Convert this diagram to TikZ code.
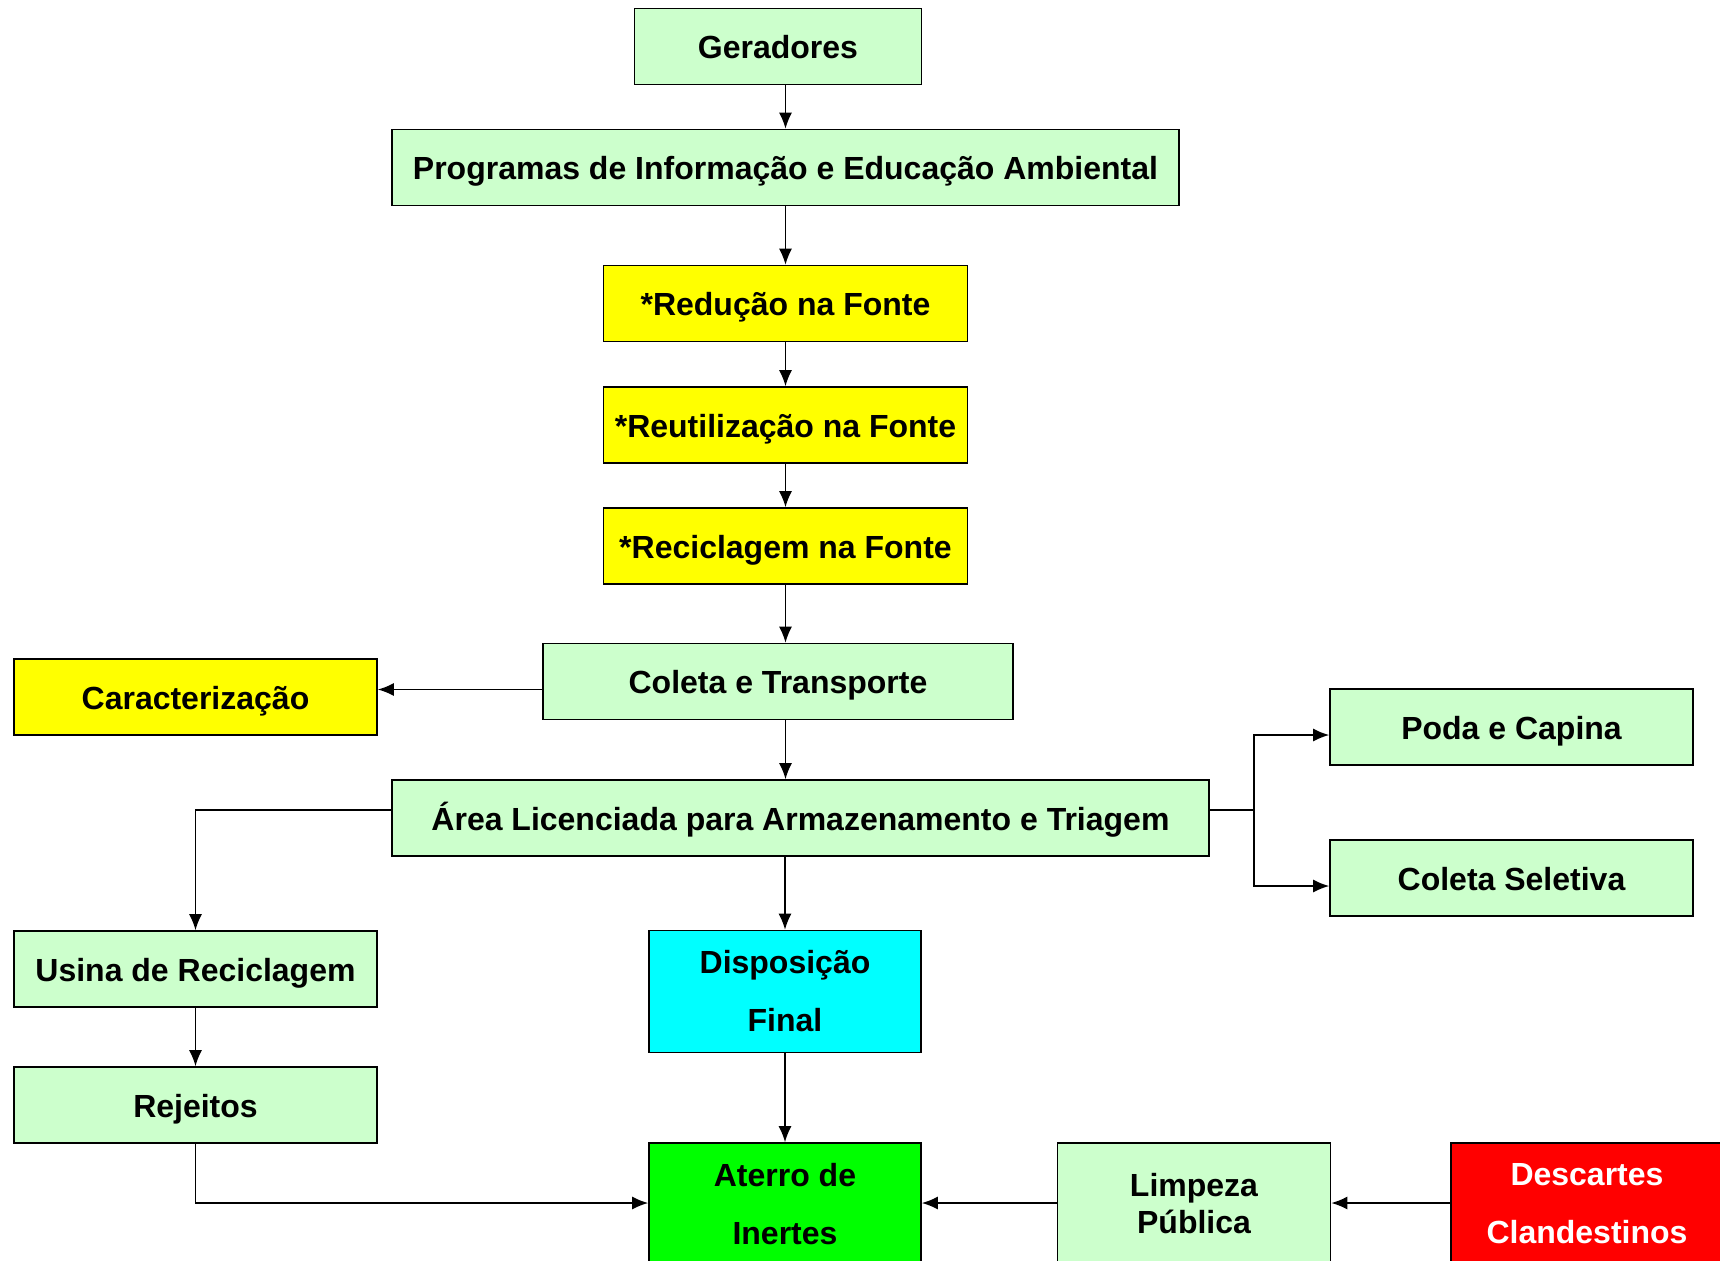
\documentclass[tikz,border=0pt]{standalone}
\usepackage{fontspec}
\setmainfont{Liberation Sans}
\usetikzlibrary{arrows.meta}
\definecolor{verdeclaro}{HTML}{CCFFCC}
\definecolor{amarelo}{HTML}{FFFF00}
\definecolor{ciano}{HTML}{00FFFF}
\definecolor{verde}{HTML}{00FF00}
\definecolor{vermelho}{HTML}{FF0000}
\tikzset{
  bloco/.style={draw=black, line width=.8pt, fill=verdeclaro, align=center,
    minimum height=38pt, inner sep=2pt,
    font=\bfseries\fontsize{16}{18.5}\selectfont},
  linha/.style={text height=14pt, text depth=2pt},
  alto/.style={minimum height=61pt, font=\bfseries\fontsize{16}{29}\selectfont},
  seta/.style={-{Latex[length=8pt,width=6.5pt]}, line width=.8pt},
}
\begin{document}
\begin{tikzpicture}[x=.5pt,y=-.5pt]
  \useasboundingbox (0,0) rectangle (1720,1260);
  % coluna central
  \node[bloco, linha, minimum width=143.5pt] (ger) at (778,46.5) {Geradores};
  \node[bloco, linha, minimum width=393.5pt] (prog) at (785.5,167.5) {Programas de Informação e Educação Ambiental};
  \node[bloco, linha, fill=amarelo, minimum width=182pt] (red) at (785.5,303.5) {*Redução na Fonte};
  \node[bloco, linha, fill=amarelo, minimum width=182pt] (reu) at (785.5,425) {*Reutilização na Fonte};
  \node[bloco, linha, fill=amarelo, minimum width=182pt] (rec) at (785.5,546) {*Reciclagem na Fonte};
  \node[bloco, linha, minimum width=235pt] (col) at (778,681.5) {Coleta e Transporte};
  \node[bloco, linha, minimum width=408.5pt] (area) at (800.5,818) {Área Licenciada para Armazenamento e Triagem};
  \node[bloco, alto, fill=ciano, minimum width=136pt] (disp) at (785,991.5) {Disposição\\Final};
  \node[bloco, alto, fill=verde, minimum width=136pt] (ater) at (785,1204) {Aterro de\\Inertes};
  % lado esquerdo
  \node[bloco, linha, fill=amarelo, minimum width=181.5pt] (car) at (195.5,697) {Caracterização};
  \node[bloco, linha, minimum width=181.5pt] (usina) at (195.5,969) {Usina de Reciclagem};
  \node[bloco, linha, minimum width=181.5pt] (rej) at (195.5,1105) {Rejeitos};
  % lado direito
  \node[bloco, linha, minimum width=181.5pt] (poda) at (1511.5,727) {Poda e Capina};
  \node[bloco, linha, minimum width=181.5pt] (sel) at (1511.5,878) {Coleta Seletiva};
  \node[bloco, minimum width=136.5pt, minimum height=61pt] (limp) at (1194,1204) {Limpeza\\Pública};
  \node[bloco, alto, fill=vermelho, text=white, minimum width=136pt] (desc) at (1587,1204) {Descartes\\Clandestinos};
  \coordinate (bif) at (1254,810);
  % ligacoes
  \draw[seta] (ger.south -| prog.north) -- (prog.north);
  \draw[seta] (prog) -- (red);
  \draw[seta] (red) -- (reu);
  \draw[seta] (reu) -- (rec);
  \draw[seta] (rec.south) -- (rec.south |- col.north);
  \draw[seta] ([yshift=-4pt]col.west) -- ([yshift=-4pt]col.west -| car.east);
  \draw[seta] (col.south -| rec.south) -- (rec.south |- area.north);
  \draw[seta] ([yshift=4pt]area.west) -| (usina.north);
  \draw[line width=.8pt] ([yshift=4pt]area.east) -- (bif);
  \draw[seta] (bif) |- ([yshift=-4pt]poda.west);
  \draw[seta] (bif) |- ([yshift=-4pt]sel.west);
  \draw[seta] (area.south -| disp.north) -- (disp.north);
  \draw[seta] (disp) -- (ater);
  \draw[seta] (usina) -- (rej);
  \draw[seta] (rej.south) |- ([yshift=.5pt]ater.west);
  \draw[seta] ([yshift=.5pt]limp.west) -- ([yshift=.5pt]ater.east);
  \draw[seta] ([yshift=.5pt]desc.west) -- ([yshift=.5pt]limp.east);
\end{tikzpicture}
\end{document}
